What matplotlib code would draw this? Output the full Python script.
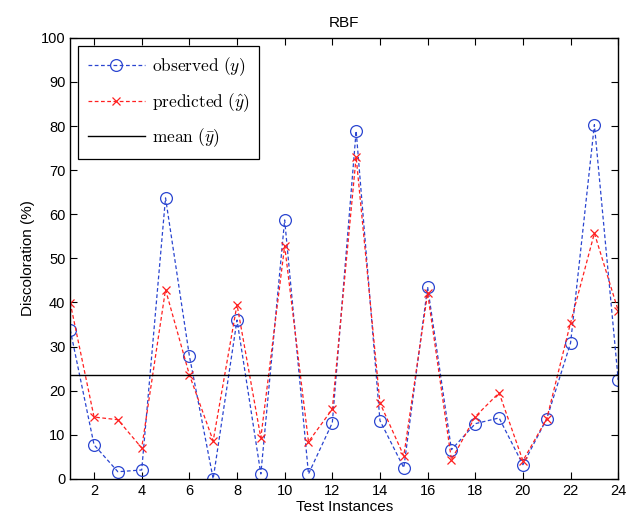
import numpy as np
import matplotlib

matplotlib.use("agg")

from matplotlib import pyplot as plt

instances = np.arange(1, 25)
observed = [33.8, 7.7, 1.6, 2.0, 63.7, 27.9, 0.0, 36.0, 1.1, 58.7, 1.1, 12.7,
            78.9, 13.2, 2.5, 43.5, 6.6, 12.5, 13.8, 3.2, 13.6, 30.8, 80.3, 22.4]
predicted = [39.9, 14.0, 13.4, 7.0, 42.9, 23.6, 8.6, 39.5, 9.3, 52.8, 8.4, 15.8,
             73.0, 17.2, 5.2, 42.1, 4.3, 14.1, 19.5, 4.1, 13.6, 35.4, 55.7, 38.1]
xticks = list(range(2, 25, 2))
yticks = list(range(0, 101, 10))

plt.rcParams["font.family"] = ["Liberation Sans", "DejaVu Sans"]
plt.rcParams["mathtext.fontset"] = "cm"


def make_plot():
    fig = plt.figure(figsize=(6.27, 5.25), dpi=100)
    ax = fig.add_axes([0.112, 0.088, 0.874, 0.840])

    mean_obs = np.mean(observed)

    ax.plot(instances, observed, "--o", color="#2a45d0", linewidth=0.9,
            dashes=(3, 2), markersize=8.5, markerfacecolor="none",
            markeredgewidth=0.9, label=r"$\mathrm{observed}\ (y)$")
    ax.plot(instances, predicted, "--x", color="#ff2020", linewidth=0.9,
            dashes=(3, 2), markersize=5.5, markeredgewidth=0.9,
            label=r"$\mathrm{predicted}\ (\hat{y})$")
    ax.axhline(mean_obs, color="black", linewidth=1.0,
               label=r"$\mathrm{mean}\ (\bar{y})$")

    ax.set_xlim(1, 24)
    ax.set_ylim(0, 100)
    ax.set_xticks(xticks)
    ax.set_yticks(yticks)
    ax.tick_params(direction="in", top=True, right=True, labelsize=10.5,
                   length=5)
    for s in ax.spines.values():
        s.set_linewidth(1.0)

    ax.set_xlabel("Test Instances", fontsize=11, labelpad=2)
    ax.set_ylabel("Discoloration (%)", fontsize=11, labelpad=4)
    ax.set_title("RBF", fontsize=11, pad=8)

    leg = ax.legend(loc="upper left", fontsize=12.5, fancybox=False,
                    edgecolor="black", framealpha=1, borderpad=0.55,
                    labelspacing=0.75, handlelength=3.3, handletextpad=0.4,
                    borderaxespad=0.45)
    leg.get_frame().set_linewidth(0.9)

    fig.savefig("out.png", dpi=100)
    plt.close()


if __name__ == "__main__":
    make_plot()
